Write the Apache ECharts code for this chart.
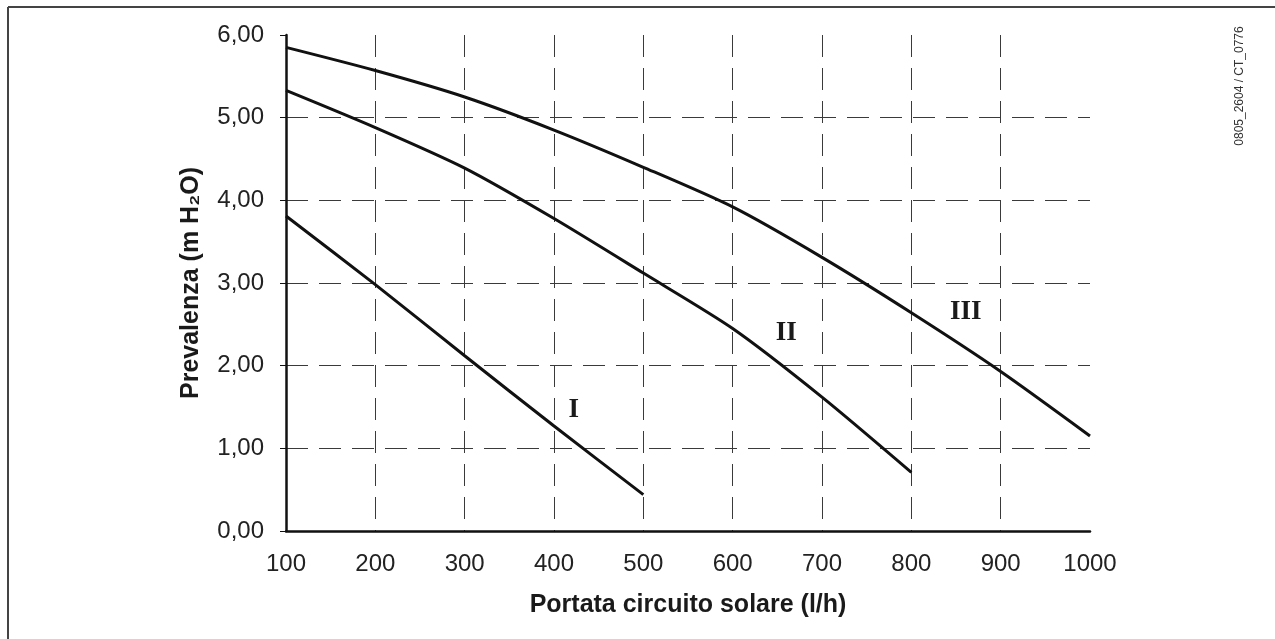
<!DOCTYPE html>
<html>
<head>
<meta charset="utf-8">
<title>Prevalenza / Portata</title>
<script src="https://cdn.jsdelivr.net/npm/echarts@6/dist/echarts.min.js"></script>
<style>
  html, body { margin: 0; padding: 0; background: #fff; }
  #chart { width: 1275px; height: 639px; }
</style>
</head>
<body>
<div id="chart"></div>
<script>
// Flow rate (l/h) at which each pump speed curve is sampled
const flowI   = [100, 200, 300, 400, 500];
const flowII  = [100, 200, 300, 400, 500, 600, 700, 800];
const flowIII = [100, 200, 300, 400, 500, 600, 700, 800, 900, 1000];

// Head (m H2O) for speeds I, II, III
const headI   = [3.81, 2.98, 2.12, 1.27, 0.44];
const headII  = [5.33, 4.88, 4.39, 3.78, 3.12, 2.45, 1.62, 0.71];
const headIII = [5.85, 5.57, 5.25, 4.85, 4.40, 3.92, 3.31, 2.64, 1.93, 1.15];

// Curve names and where each name sits (flow, head)
const curveNames = ['I', 'II', 'III'];
const nameSpots  = [[422, 1.46], [660, 2.39], [861, 2.65]];

const xTicks = [100, 200, 300, 400, 500, 600, 700, 800, 900, 1000];
const yTicks = [0, 1, 2, 3, 4, 5, 6];

const pairs = (xs, ys) => xs.map((x, i) => [x, ys[i]]);

const gridDash = { color: '#3a3a3a', width: 1, type: [22, 11] };

function curve(name, data, spot) {
  return {
    name: name,
    type: 'line',
    data: data,
    smooth: 0.25,
    symbol: 'none',
    lineStyle: { color: '#111', width: 3 },
    markPoint: {
      symbol: 'circle',
      symbolSize: 0,
      data: [{ coord: spot, value: name }],
      label: {
        show: true,
        position: 'inside',
        formatter: name,
        fontFamily: '"Liberation Serif", "DejaVu Serif", serif',
        fontWeight: 'bold',
        fontSize: 27,
        color: '#1a1a1a'
      }
    }
  };
}

const chart = echarts.init(document.getElementById('chart'), null, { renderer: 'canvas' });

chart.setOption({
  backgroundColor: '#ffffff',
  animation: false,
  textStyle: { fontFamily: '"Liberation Sans", Arial, sans-serif' },
  grid: { left: 286, top: 35, width: 804, height: 496 },
  xAxis: {
    type: 'value',
    min: 100,
    max: 1000,
    interval: 100,
    name: 'Portata circuito solare (l/h)',
    nameLocation: 'middle',
    nameGap: 62,
    nameTextStyle: { fontSize: 25, fontWeight: 'bold', color: '#1a1a1a' },
    axisLine: { show: true, onZero: false, lineStyle: { color: '#111', width: 2.5 } },
    axisTick: { show: false },
    axisLabel: {
      margin: 21,
      fontSize: 24,
      color: '#222',
      customValues: xTicks,
      formatter: v => String(v)
    },
    splitLine: { show: true, showMinLine: false, showMaxLine: false, lineStyle: gridDash }
  },
  yAxis: {
    type: 'value',
    min: 0,
    max: 6,
    interval: 1,
    name: 'Prevalenza (m H\u2082O)',
    nameLocation: 'middle',
    nameGap: 82,
    nameTextStyle: { fontSize: 25, fontWeight: 'bold', color: '#1a1a1a' },
    axisLine: { show: true, lineStyle: { color: '#111', width: 2.5 } },
    axisTick: { show: true, length: 6, lineStyle: { color: '#111', width: 1 } },
    axisLabel: {
      margin: 22,
      fontSize: 24,
      color: '#222',
      customValues: yTicks,
      formatter: v => v.toFixed(2).replace('.', ',')
    },
    splitLine: { show: true, showMinLine: false, showMaxLine: false, lineStyle: gridDash }
  },
  series: [
    curve(curveNames[0], pairs(flowI, headI), nameSpots[0]),
    curve(curveNames[1], pairs(flowII, headII), nameSpots[1]),
    curve(curveNames[2], pairs(flowIII, headIII), nameSpots[2])
  ],
  graphic: [
    // frame edges along the top and left
    { type: 'line', shape: { x1: 8, y1: 7, x2: 1275, y2: 7 }, style: { stroke: '#444', lineWidth: 2 } },
    { type: 'line', shape: { x1: 8, y1: 7, x2: 8, y2: 639 }, style: { stroke: '#444', lineWidth: 2 } },
    // drawing reference code
    {
      type: 'text',
      x: 1240,
      y: 86,
      rotation: Math.PI / 2,
      style: {
        text: '0805_2604 / CT_0776',
        fontSize: 12,
        fontFamily: '"Liberation Sans", Arial, sans-serif',
        fill: '#333',
        align: 'center',
        verticalAlign: 'middle'
      }
    }
  ]
});
</script>
</body>
</html>
